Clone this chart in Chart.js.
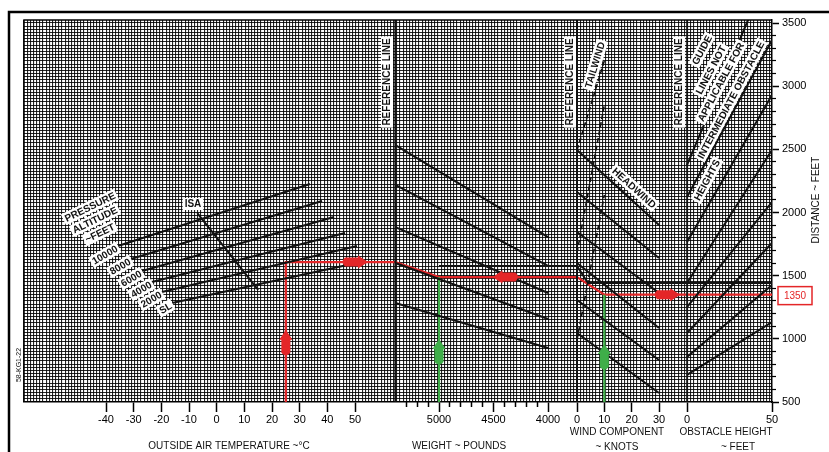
<!DOCTYPE html>
<html>
<head>
<meta charset="utf-8">
<script src="https://cdn.jsdelivr.net/npm/chart.js@4.4.1/dist/chart.umd.min.js"></script>
<style>
  html, body { margin: 0; padding: 0; background: #fff; }
  #wrap { position: relative; width: 829px; height: 452px; }
</style>
</head>
<body>
<div id="wrap"><canvas id="chart" width="829" height="452"></canvas></div>
<script>
// ---- data (distance in feet) ----
// pressure altitude lines in the OAT panel
const altLabels = ['10000', '8000', '6000', '4000', '2000', 'SL'];
const altOatStart = [-35.7, -31, -27, -23.4, -19.8, -16.1];
const altDistStart = [1735, 1632, 1537, 1450, 1371, 1284];
const altOatEnd = [33.7, 38.1, 42.4, 46.4, 50.7, 48.9];
const altDistEnd = [2226, 2091, 1964, 1838, 1735, 1592];
const isaOat = [-7, 15];
const isaDist = [1996, 1387];

// weight panel guide lines (start on reference line, end at 4000 lb)
const weightRef = 5400;
const weightEnd = 4000;
const weightDistStart = [2534, 2218, 1885, 1600, 1284];
const weightDistEnd = [1806, 1577, 1363, 1157, 927];

// wind panel
const headwindKts = [0, 30];
const headwindDistStart = [2495, 2162, 1846, 1600, 1307, 1046];
const headwindDistEnd = [1901, 1640, 1363, 1086, 832, 571];
const tailwindKts = [0, 10];
const tailwindDistStart = [2495, 1680, 991];
const tailwindDistEnd = [3200, 2851, 2139];

// obstacle height panel
const obstacleFt = [0, 50];
const obstacleDistStart = [2376, 2123, 1767, 1442, 1252, 1046, 856, 714];
const obstacleDistEnd = [3975, 3366, 2930, 2495, 2083, 1759, 1426, 1133];

// axis ticks
const oatTicks = [-40, -30, -20, -10, 0, 10, 20, 30, 40, 50];
const weightTicks = [5000, 4500, 4000];
const windTicks = [0, 10, 20, 30];
const obstacleTicks = [0, 50];
const distTicks = [500, 1000, 1500, 2000, 2500, 3000, 3500];

// worked example (red path) and the inputs (green)
const redPanels = ['oat', 'oat', 'wt', 'wt', 'wind', 'wind', 'obs'];
const redValues = [25, 25, 5400, 5000, 0, 10, 50];
const redDist = [500, 1608, 1608, 1489, 1489, 1350, 1350];
const greenPanels = ['wt', 'wind'];
const greenValues = [5000, 10];
const greenTop = [1489, 1350];
const resultDist = 1350;

// original black example path
const blackPanels = ['wt', 'wind', 'wind', 'obs'];
const blackValues = [5000, 0, 4, 50];
const blackDist = [1577, 1577, 1442, 1442];

// arrows along the paths
const arrowPanels = ['oat', 'oat', 'wt', 'wind', 'wt', 'wind'];
const arrowValues = [25, 50, 4390, 33, 5000, 10];
const arrowDist = [970, 1608, 1489, 1350, 896, 856];
const arrowDirs = ['up', 'right', 'left', 'right', 'up', 'up'];
const arrowColors = ['red', 'red', 'red', 'red', 'green', 'green'];

// ---- layout: each panel maps its own unit onto the shared horizontal axis ----
const X0 = 24, X1 = 772;
const panels = {
  oat:  { v0: -40,  p0: 106, v1: 50,   p1: 355 },
  wt:   { v0: 5000, p0: 439, v1: 4000, p1: 548 },
  wind: { v0: 0,    p0: 577, v1: 30,   p1: 659 },
  obs:  { v0: 0,    p0: 687, v1: 50,   p1: 772 }
};
function ux(panel, v) {
  const p = panels[panel];
  return p.p0 + (v - p.v0) * (p.p1 - p.p0) / (p.v1 - p.v0);
}
const YMAX = 3524;
const RED = '#e42628', GREEN = '#3fae49', INK = '#111';
const FONT = '"Liberation Sans", Arial, sans-serif';

function line(points, color, width, dash) {
  return {
    data: points, showLine: true, borderColor: color, borderWidth: width,
    borderDash: dash || [], pointRadius: 0, tension: 0, fill: false
  };
}
function pair(panel, vs, ds) {
  return vs.map((v, i) => ({ x: ux(panel, v), y: ds[i] }));
}

const datasets = [];
altLabels.forEach((l, i) => datasets.push(line(pair('oat', [altOatStart[i], altOatEnd[i]], [altDistStart[i], altDistEnd[i]]), INK, 2)));
datasets.push(line(pair('oat', isaOat, isaDist), INK, 2));
weightDistStart.forEach((d, i) => datasets.push(line(pair('wt', [weightRef, weightEnd], [d, weightDistEnd[i]]), INK, 2)));
headwindDistStart.forEach((d, i) => datasets.push(line(pair('wind', headwindKts, [d, headwindDistEnd[i]]), INK, 2)));
tailwindDistStart.forEach((d, i) => datasets.push(line(pair('wind', tailwindKts, [d, tailwindDistEnd[i]]), INK, 1.6, [5, 3])));
obstacleDistStart.forEach((d, i) => datasets.push(line(pair('obs', obstacleFt, [d, obstacleDistEnd[i]]), INK, 2)));
// reference lines
datasets.push(line(pair('wt', [weightRef, weightRef], [500, YMAX]), INK, 2));
datasets.push(line(pair('wind', [0, 0], [500, YMAX]), INK, 2));
datasets.push(line(pair('obs', [0, 0], [500, YMAX]), INK, 1.6));
// example paths
datasets.push(line(blackValues.map((v, i) => ({ x: ux(blackPanels[i], v), y: blackDist[i] })), INK, 2));
greenValues.forEach((v, i) => datasets.push(line(pair(greenPanels[i], [v, v], [500, greenTop[i]]), GREEN, 2.2)));
datasets.push(line(redValues.map((v, i) => ({ x: ux(redPanels[i], v), y: redDist[i] })), RED, 2.2));

// tick positions
const gridXs = [];
for (let v = X0; v <= X1 + 0.01; v += 3.16) gridXs.push(v);
const gridYs = [];
for (let d = 500; d <= YMAX; d += 25) gridYs.push(d);
const majorX = [], majorLabels = [];
oatTicks.forEach(v => { majorX.push(ux('oat', v)); majorLabels.push(String(v)); });
weightTicks.forEach(v => { majorX.push(ux('wt', v)); majorLabels.push(String(v)); });
windTicks.forEach(v => { majorX.push(ux('wind', v)); majorLabels.push(String(v)); });
obstacleTicks.forEach(v => { majorX.push(ux('obs', v)); majorLabels.push(String(v)); });
const minorX = [];
for (let w = 5300; w > 4000; w -= 100) if (w % 500) minorX.push(ux('wt', w));
const minorY = [];
for (let d = 600; d < 3500; d += 100) if (d % 500) minorY.push(d);

function setTicks(list) { return s => { s.ticks = list.map(v => ({ value: v })); }; }
function fitH(h) { return s => { s.height = h; }; }
function fitW(w) { return s => { s.width = w; }; }

// free text on the chart: [text, x, y, rotation deg, font, white box]
const B10 = 'bold 10px ' + FONT;
const T10 = '10px ' + FONT;
const notes = [
  ['REFERENCE LINE', 387, 82, -90, B10, true],
  ['REFERENCE LINE', 570, 82, -90, B10, true],
  ['REFERENCE LINE', 679, 82, -90, B10, true],
  ['TAILWIND', 595, 65, -73, B10, true],
  ['HEADWIND', 634, 188, 42, B10, true],
  ['GUIDE', 702, 50, -62, B10, true],
  ['LINES NOT', 711, 70, -62, B10, true],
  ['APPLICABLE FOR', 721, 82, -62, B10, true],
  ['INTERMEDIATE OBSTACLE', 731, 100, -62, B10, true],
  ['HEIGHTS', 707, 180, -62, B10, true],
  ['PRESSURE', 90, 207, -26, B10, true],
  ['ALTITUDE', 95, 220, -26, B10, true],
  ['~FEET', 100, 233, -26, B10, true],
  ['ISA', 193, 204, 0, B10, true],
  ['58-KG1-22', 19, 365, -90, '7px ' + FONT, false],
  ['DISTANCE ~ FEET', 816, 200, -90, T10, false],
  ['OUTSIDE AIR TEMPERATURE ~°C', 229, 446, 0, T10, false],
  ['WEIGHT ~ POUNDS', 459, 446, 0, T10, false],
  ['WIND COMPONENT', 617, 432, 0, T10, false],
  ['~ KNOTS', 617, 447, 0, T10, false],
  ['OBSTACLE HEIGHT', 726, 432, 0, T10, false],
  ['~ FEET', 738, 447, 0, T10, false]
];

function drawText(c, text, x, y, rot, font, box, align) {
  c.save();
  c.translate(x, y);
  c.rotate(rot * Math.PI / 180);
  c.font = font;
  c.textBaseline = 'middle';
  c.textAlign = align || 'center';
  const w = c.measureText(text).width;
  const x0 = c.textAlign === 'right' ? -w : (c.textAlign === 'left' ? 0 : -w / 2);
  if (box) {
    c.fillStyle = '#fff';
    c.fillRect(x0 - 2, -6, w + 4, 12);
  }
  c.fillStyle = INK;
  c.fillText(text, 0, 0.5);
  c.restore();
}

function drawArrow(c, x, y, dir, color) {
  c.save();
  c.translate(x, y);
  c.rotate({ right: 0, up: -Math.PI / 2, left: Math.PI, down: Math.PI / 2 }[dir]);
  c.fillStyle = color;
  c.beginPath();
  c.moveTo(13, 0);
  c.lineTo(3, -6.5);
  c.lineTo(3, -4.5);
  c.lineTo(-10, -4.5);
  c.quadraticCurveTo(-15, 0, -10, 4.5);
  c.lineTo(3, 4.5);
  c.lineTo(3, 6.5);
  c.closePath();
  c.fill();
  c.restore();
}

const chartDecor = {
  id: 'chartDecor',
  beforeDraw(chart) {
    const c = chart.ctx;
    c.save();
    c.fillStyle = '#fff';
    c.fillRect(0, 0, chart.width, chart.height);
    c.restore();
  },
  afterDraw(chart) {
    const c = chart.ctx, a = chart.chartArea;
    const sx = chart.scales.x, sy = chart.scales.y;
    c.save();
    // outer frame
    c.strokeStyle = '#000';
    c.lineWidth = 2.5;
    c.beginPath();
    c.moveTo(9, 460); c.lineTo(9, 12); c.lineTo(830, 12);
    c.stroke();
    // plot edges
    c.lineWidth = 1.5;
    c.beginPath();
    c.moveTo(a.left, a.bottom); c.lineTo(a.left, a.top); c.lineTo(a.right, a.top);
    c.stroke();
    c.restore();

    // pressure altitude labels at the start of each line
    altLabels.forEach((l, i) => {
      const x = sx.getPixelForValue(ux('oat', altOatStart[i]));
      const y = sy.getPixelForValue(altDistStart[i]);
      drawText(c, l, x - 1, y + 2, -30, B10, true, 'right');
    });
    notes.forEach(n => drawText(c, n[0], n[1], n[2], n[3], n[4], n[5]));

    // arrows
    arrowValues.forEach((v, i) => {
      drawArrow(c, sx.getPixelForValue(ux(arrowPanels[i], v)), sy.getPixelForValue(arrowDist[i]),
        arrowDirs[i], arrowColors[i] === 'red' ? RED : GREEN);
    });

    // result box
    const yr = sy.getPixelForValue(resultDist);
    c.save();
    c.strokeStyle = RED;
    c.lineWidth = 1.5;
    c.fillStyle = '#fff';
    c.fillRect(778, yr - 8, 34, 18);
    c.strokeRect(778, yr - 8, 34, 18);
    c.fillStyle = RED;
    c.font = T10;
    c.textAlign = 'center';
    c.textBaseline = 'middle';
    c.fillText(String(resultDist), 795, yr + 1.5);
    c.restore();
  }
};

new Chart(document.getElementById('chart'), {
  type: 'scatter',
  data: { datasets },
  options: {
    responsive: false,
    animation: false,
    events: [],
    layout: { padding: { left: 24, top: 20, right: 0, bottom: 0 } },
    plugins: { legend: { display: false }, tooltip: { enabled: false } },
    scales: {
      x: {
        type: 'linear', min: X0, max: X1, position: 'bottom', weight: 0,
        afterBuildTicks: setTicks(gridXs), afterFit: fitH(0),
        ticks: { display: false },
        grid: { color: 'rgba(0,0,0,0.85)', lineWidth: 1.1, drawTicks: false },
        border: { display: false }
      },
      xm: {
        type: 'linear', min: X0, max: X1, position: 'bottom', weight: 1,
        afterBuildTicks: setTicks(minorX), afterFit: fitH(0),
        ticks: { display: false },
        grid: { drawOnChartArea: false, tickLength: 5, tickColor: '#000', tickWidth: 1.5 },
        border: { display: false }
      },
      xt: {
        type: 'linear', min: X0, max: X1, position: 'bottom', weight: 2,
        afterBuildTicks: setTicks(majorX), afterFit: fitH(50),
        ticks: {
          callback: (v, i) => majorLabels[i], autoSkip: false, maxRotation: 0,
          font: { family: FONT, size: 11 }, color: '#000', padding: 1
        },
        grid: { drawOnChartArea: false, tickLength: 10, tickColor: '#000', tickWidth: 1.5 },
        border: { display: true, color: '#000', width: 1.5 }
      },
      y: {
        type: 'linear', min: 500, max: YMAX, position: 'right', weight: 0,
        afterBuildTicks: setTicks(gridYs), afterFit: fitW(0),
        ticks: { display: false },
        grid: { color: 'rgba(0,0,0,0.85)', lineWidth: 1.1, drawTicks: false },
        border: { display: false }
      },
      ym: {
        type: 'linear', min: 500, max: YMAX, position: 'right', weight: 1,
        afterBuildTicks: setTicks(minorY), afterFit: fitW(0),
        ticks: { display: false },
        grid: { drawOnChartArea: false, tickLength: 4, tickColor: '#000', tickWidth: 1.2 },
        border: { display: false }
      },
      yt: {
        type: 'linear', min: 500, max: YMAX, position: 'right', weight: 2,
        afterBuildTicks: setTicks(distTicks), afterFit: fitW(57),
        ticks: { callback: v => String(v), font: { family: FONT, size: 11 }, color: '#000', padding: 3 },
        grid: { drawOnChartArea: false, tickLength: 7, tickColor: '#000', tickWidth: 1.5 },
        border: { display: true, color: '#000', width: 1.5 }
      }
    }
  },
  plugins: [chartDecor]
});
</script>
</body>
</html>
